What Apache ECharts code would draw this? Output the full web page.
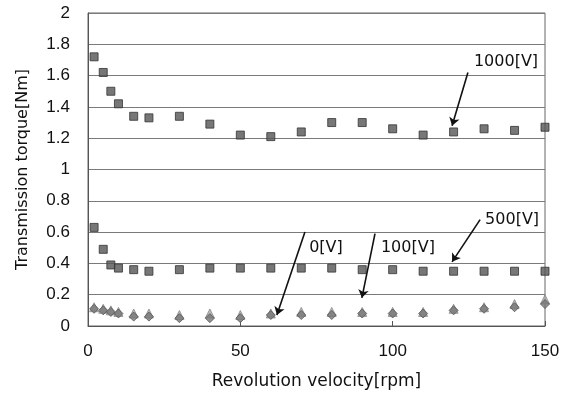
<!DOCTYPE html>
<html>
<head>
<meta charset="utf-8">
<script src="https://cdn.jsdelivr.net/npm/echarts@6/dist/echarts.min.js"></script>
<style>
  html, body { margin: 0; padding: 0; background: #fff; }
  #chart { width: 569px; height: 399px; }
</style>
</head>
<body>
<div id="chart"></div>
<script>
// revolution velocity [rpm]
const rpm = [2, 5, 7.5, 10, 15, 20, 30, 40, 50, 60, 70, 80, 90, 100, 110, 120, 130, 140, 150]

// transmission torque [Nm] per applied voltage
const torque1000 = [1.72, 1.62, 1.50, 1.42, 1.34, 1.33, 1.34, 1.29, 1.22, 1.21, 1.24, 1.30, 1.30, 1.26, 1.22, 1.24, 1.26, 1.25, 1.27]
const torque500 = [0.63, 0.49, 0.39, 0.37, 0.36, 0.35, 0.36, 0.37, 0.37, 0.37, 0.37, 0.37, 0.36, 0.36, 0.35, 0.35, 0.35, 0.35, 0.35]
const torque100 = [0.12, 0.11, 0.10, 0.09, 0.08, 0.08, 0.07, 0.08, 0.07, 0.08, 0.09, 0.09, 0.09, 0.09, 0.09, 0.11, 0.12, 0.14, 0.17]
const torque0 = [0.11, 0.10, 0.09, 0.08, 0.06, 0.06, 0.05, 0.05, 0.05, 0.07, 0.07, 0.07, 0.08, 0.08, 0.08, 0.10, 0.11, 0.12, 0.14]

// annotation labels: text, label position, arrow start, arrow end (data coords)
const noteText = ['1000[V]', '500[V]', '0[V]', '100[V]']
const noteLabelAt = [[137.2, 1.69], [139.2, 0.68], [78.1, 0.50], [105, 0.50]]
const noteFrom = [[124.7, 1.62], [128.7, 0.68], [71.2, 0.60], [94.2, 0.59]]
const noteTo = [[119.5, 1.28], [119.5, 0.41], [62, 0.07], [89.9, 0.18]]

const font = '"Liberation Sans", Arial, sans-serif'
const wideFont = '"DejaVu Sans", Verdana, sans-serif'

function pairs(ys) {
  return rpm.map((x, i) => [x, ys[i]])
}

const chart = echarts.init(document.getElementById('chart'), null, { renderer: 'canvas' })

chart.setOption({
  animation: false,
  grid: {
    left: 88,
    right: 24,
    top: 13,
    bottom: 73,
    show: true,
    borderColor: '#666',
    borderWidth: 1,
  },
  xAxis: {
    type: 'value',
    min: 0,
    max: 150,
    interval: 50,
    name: 'Revolution velocity[rpm]',
    nameLocation: 'middle',
    nameGap: 47,
    nameTextStyle: { color: '#111', fontSize: 17, fontFamily: wideFont },
    axisLine: { lineStyle: { color: '#555' } },
    axisTick: { inside: true, length: 5, lineStyle: { color: '#555' } },
    axisLabel: { color: '#111', fontSize: 17, fontFamily: font, margin: 17 },
    splitLine: { show: false },
  },
  yAxis: {
    type: 'value',
    min: 0,
    max: 2,
    interval: 0.2,
    name: 'Transmission torque[Nm]',
    nameLocation: 'middle',
    nameGap: 57,
    nameTextStyle: { color: '#111', fontSize: 16, fontFamily: wideFont },
    axisLine: { show: true, lineStyle: { color: '#555' } },
    axisTick: { show: false },
    axisLabel: { color: '#111', fontSize: 17, fontFamily: font, margin: 18 },
    splitLine: { lineStyle: { color: '#7a7a7a', width: 1 } },
  },
  series: [
    {
      name: '1000[V]',
      type: 'scatter',
      data: pairs(torque1000),
      symbol: 'rect',
      symbolSize: 8,
      itemStyle: { color: '#555', borderColor: '#333', borderWidth: 1 },
      markLine: {
        silent: true,
        symbol: ['none', 'arrow'],
        symbolSize: 8,
        lineStyle: { color: '#111', width: 1.6, type: 'solid' },
        label: { show: false },
        data: noteFrom.map((from, i) => [{ coord: from }, { coord: noteTo[i] }]),
      },
      markPoint: {
        silent: true,
        symbol: 'circle',
        symbolSize: 0,
        label: {
          show: true,
          position: 'inside',
          color: '#111',
          fontSize: 16,
          fontFamily: wideFont,
          formatter: (p) => p.name,
        },
        data: noteText.map((t, i) => ({ name: t, coord: noteLabelAt[i] })),
      },
    },
    {
      name: '500[V]',
      type: 'scatter',
      data: pairs(torque500),
      symbol: 'rect',
      symbolSize: 8,
      itemStyle: { color: '#555', borderColor: '#333', borderWidth: 1 },
    },
    {
      name: '100[V]',
      type: 'scatter',
      data: pairs(torque100),
      symbol: 'triangle',
      symbolSize: 9,
      itemStyle: { color: '#aaa', borderColor: '#888', borderWidth: 1 },
    },
    {
      name: '0[V]',
      type: 'scatter',
      data: pairs(torque0),
      symbol: 'diamond',
      symbolSize: 9,
      itemStyle: { color: '#777', borderColor: '#555', borderWidth: 1 },
    },
  ],
})
</script>
</body>
</html>
